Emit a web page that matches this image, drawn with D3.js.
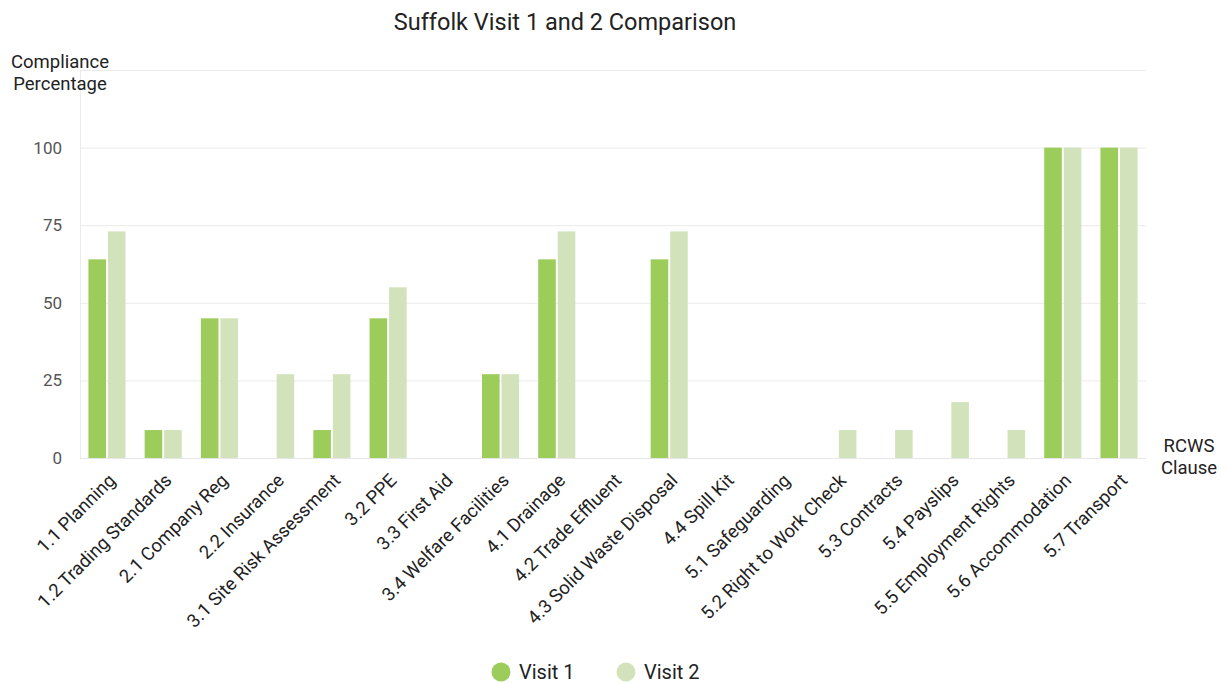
<!DOCTYPE html>
<html>
<head>
<meta charset="utf-8">
<script src="https://cdn.jsdelivr.net/npm/d3@7"></script>
<style>
  html, body { margin: 0; padding: 0; background: #fff; }
  svg { display: block; font-family: Roboto, "Noto Sans", sans-serif; }
</style>
</head>
<body>
<svg id="chart" width="1228" height="683"></svg>
<script>
// RCWS clauses and compliance percentages for each visit
const clauses = [
  "1.1 Planning", "1.2 Trading Standards", "2.1 Company Reg", "2.2 Insurance",
  "3.1 Site Risk Assessment", "3.2 PPE", "3.3 First Aid", "3.4 Welfare Facilities",
  "4.1 Drainage", "4.2 Trade Effluent", "4.3 Solid Waste Disposal", "4.4 Spill Kit",
  "5.1 Safeguarding", "5.2 Right to Work Check", "5.3 Contracts", "5.4 Payslips",
  "5.5 Employment Rights", "5.6 Accommodation", "5.7 Transport"
];
const visit1 = [64, 9, 45, 0, 9, 45, 0, 27, 64, 0, 64, 0, 0, 0, 0, 0, 0, 100, 100];
const visit2 = [73, 9, 45, 27, 27, 55, 0, 27, 73, 0, 73, 0, 0, 9, 9, 18, 9, 100, 100];
const seriesNames = ["Visit 1", "Visit 2"];
const seriesColors = ["#9ccc5a", "#d2e3bb"];
const yTicks = [0, 25, 50, 75, 100, 125];

const svg = d3.select("#chart");
const plotLeft = 80, plotRight = 1146, plotTop = 70, plotBottom = 458;

const x = d3.scaleBand().domain(clauses).range([plotLeft, plotRight]).paddingInner(0.34).paddingOuter(0.15);
const x1 = d3.scaleBand().domain(seriesNames).range([0, x.bandwidth()]).paddingInner(0.1);
const y = d3.scaleLinear().domain([0, 125]).range([plotBottom, plotTop]);

// Gridlines
svg.append("g").selectAll("line").data(yTicks).join("line")
  .attr("x1", plotLeft).attr("x2", plotRight)
  .attr("y1", d => y(d) + 0.5).attr("y2", d => y(d) + 0.5)
  .attr("stroke", "#ebebeb").attr("stroke-width", 1);

// Left axis line
svg.append("line")
  .attr("x1", plotLeft + 0.5).attr("x2", plotLeft + 0.5)
  .attr("y1", plotTop).attr("y2", plotBottom)
  .attr("stroke", "#ebebeb");

// Y tick labels
svg.append("g").selectAll("text").data(yTicks.filter(d => d <= 100)).join("text")
  .attr("x", 62).attr("y", d => y(d))
  .attr("dy", "0.35em")
  .attr("text-anchor", "end")
  .attr("font-size", 17)
  .attr("fill", "#555")
  .text(d => d);

// Bars
const groups = svg.append("g").selectAll("g").data(clauses).join("g")
  .attr("transform", d => `translate(${x(d)},0)`);
groups.selectAll("rect")
  .data((d, i) => [visit1[i], visit2[i]].map((v, s) => ({ v, s })))
  .join("rect")
  .attr("x", d => x1(seriesNames[d.s]))
  .attr("width", x1.bandwidth())
  .attr("y", d => y(d.v))
  .attr("height", d => y(0) - y(d.v))
  .attr("fill", d => seriesColors[d.s]);

// Bottom axis line
svg.append("line")
  .attr("x1", plotLeft).attr("x2", plotRight)
  .attr("y1", plotBottom + 0.5).attr("y2", plotBottom + 0.5)
  .attr("stroke", "#e6e6e6");

// X tick labels, rotated
svg.append("g").selectAll("text").data(clauses).join("text")
  .attr("transform", d => `translate(${x(d) + x.bandwidth() / 2 + 5},${plotBottom + 19}) rotate(-45)`)
  .attr("text-anchor", "end")
  .attr("dy", "0.35em")
  .attr("font-size", 18.5)
  .attr("fill", "#222")
  .text(d => d);

// Title
svg.append("text")
  .attr("x", 565).attr("y", 30)
  .attr("text-anchor", "middle")
  .attr("font-size", 23.5)
  .attr("fill", "#222")
  .text("Suffolk Visit 1 and 2 Comparison");

// Axis titles
const yTitle = svg.append("text").attr("text-anchor", "middle").attr("font-size", 18.5).attr("fill", "#222");
yTitle.append("tspan").attr("x", 60).attr("y", 68).text("Compliance");
yTitle.append("tspan").attr("x", 60).attr("y", 90).text("Percentage");

const xTitle = svg.append("text").attr("text-anchor", "middle").attr("font-size", 18.5).attr("fill", "#222");
xTitle.append("tspan").attr("x", 1189).attr("y", 452).text("RCWS");
xTitle.append("tspan").attr("x", 1189).attr("y", 474).text("Clause");

// Legend
const legendX = [501, 626];
const legend = svg.append("g").selectAll("g").data(seriesNames).join("g")
  .attr("transform", (d, i) => `translate(${legendX[i]},672)`);
legend.append("circle").attr("r", 9.5).attr("fill", (d, i) => seriesColors[i]);
legend.append("text")
  .attr("x", 18).attr("dy", "0.35em")
  .attr("font-size", 20)
  .attr("fill", "#222")
  .text(d => d);
</script>
</body>
</html>
